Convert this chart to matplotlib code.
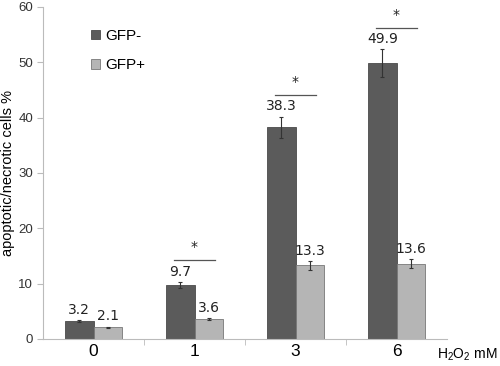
import numpy as np
import matplotlib
matplotlib.use('Agg')
import matplotlib.pyplot as plt

# H2O2 concentrations (mM)
doses = ['0', '1', '3', '6']
gfp_neg = [3.2, 9.7, 38.3, 49.9]
gfp_pos = [2.1, 3.6, 13.3, 13.6]
err_neg = [0.2, 0.5, 1.9, 2.5]
err_pos = [0.1, 0.2, 0.8, 0.8]
# significance bars: category index, height
sig_idx = [1, 2, 3]
sig_y = [14.3, 44.1, 56.2]

plt.rcParams['font.family'] = ['Liberation Sans', 'DejaVu Sans']
plt.rcParams['mathtext.fontset'] = 'custom'
plt.rcParams['mathtext.rm'] = 'Liberation Sans'

fig = plt.figure(figsize=(5, 3.66), dpi=100)
ax = fig.add_axes([0.086, 0.074, 0.808, 0.907])

x = np.arange(len(doses))
w = 0.28
dark = '#5b5b5b'
light = '#b5b5b5'
ekw = dict(ecolor='#333333', elinewidth=0.8, capsize=1.5, capthick=0.8)
ax.bar(x - w/2, gfp_neg, w, color=dark, edgecolor='#4a4a4a', linewidth=0.6,
       yerr=err_neg, error_kw=ekw, label='GFP-')
ax.bar(x + w/2, gfp_pos, w, color=light, edgecolor='#777777', linewidth=0.6,
       yerr=err_pos, error_kw=ekw, label='GFP+')

for i in range(len(doses)):
    ax.text(x[i] - w/2, gfp_neg[i] + err_neg[i] + 0.6, '%.1f' % gfp_neg[i],
            ha='center', va='bottom', fontsize=10, family='DejaVu Sans', color='#222222')
    ax.text(x[i] + w/2, gfp_pos[i] + err_pos[i] + 0.6, '%.1f' % gfp_pos[i],
            ha='center', va='bottom', fontsize=10, family='DejaVu Sans', color='#222222')

for i, yv in zip(sig_idx, sig_y):
    ax.plot([x[i] - 0.2, x[i] + 0.2], [yv, yv], color='#555555', lw=0.9)
    ax.text(x[i], yv + 1.0, '*', ha='center', va='bottom', fontsize=10,
            family='DejaVu Sans', color='#222222')

ax.set_xlim(-0.5, 3.5)
ax.set_ylim(0, 60)
ax.set_yticks(range(0, 61, 10))
ax.set_xticks(x)
ax.set_xticklabels(doses, fontsize=12.5)
ax.set_xticks(np.arange(0.5, 3.5, 1), minor=True)
ax.tick_params(axis='x', which='major', length=0, pad=4)
ax.tick_params(axis='x', which='minor', length=4, color='#bbbbbb')
ax.tick_params(axis='y', length=4, color='#bbbbbb', labelsize=9.5, labelcolor='#333333', pad=3)

for s in ['top', 'right']:
    ax.spines[s].set_visible(False)
ax.spines['left'].set_color('#bbbbbb')
ax.spines['bottom'].set_color('#bbbbbb')

fig.text(0.017, 0.527, 'apoptotic/necrotic cells %', fontsize=10.5, rotation=90,
         ha='center', va='center')
fig.text(0.994, 0.03, r'H$_\mathrm{2}$O$_\mathrm{2}$ mM', fontsize=10, ha='right', va='center')

ax.legend(loc='upper left', bbox_to_anchor=(0.085, 0.975), frameon=False, fontsize=11,
          handlelength=0.6, handleheight=0.6, handletextpad=0.3, labelspacing=1.0)

fig.savefig('out.png', dpi=100)
